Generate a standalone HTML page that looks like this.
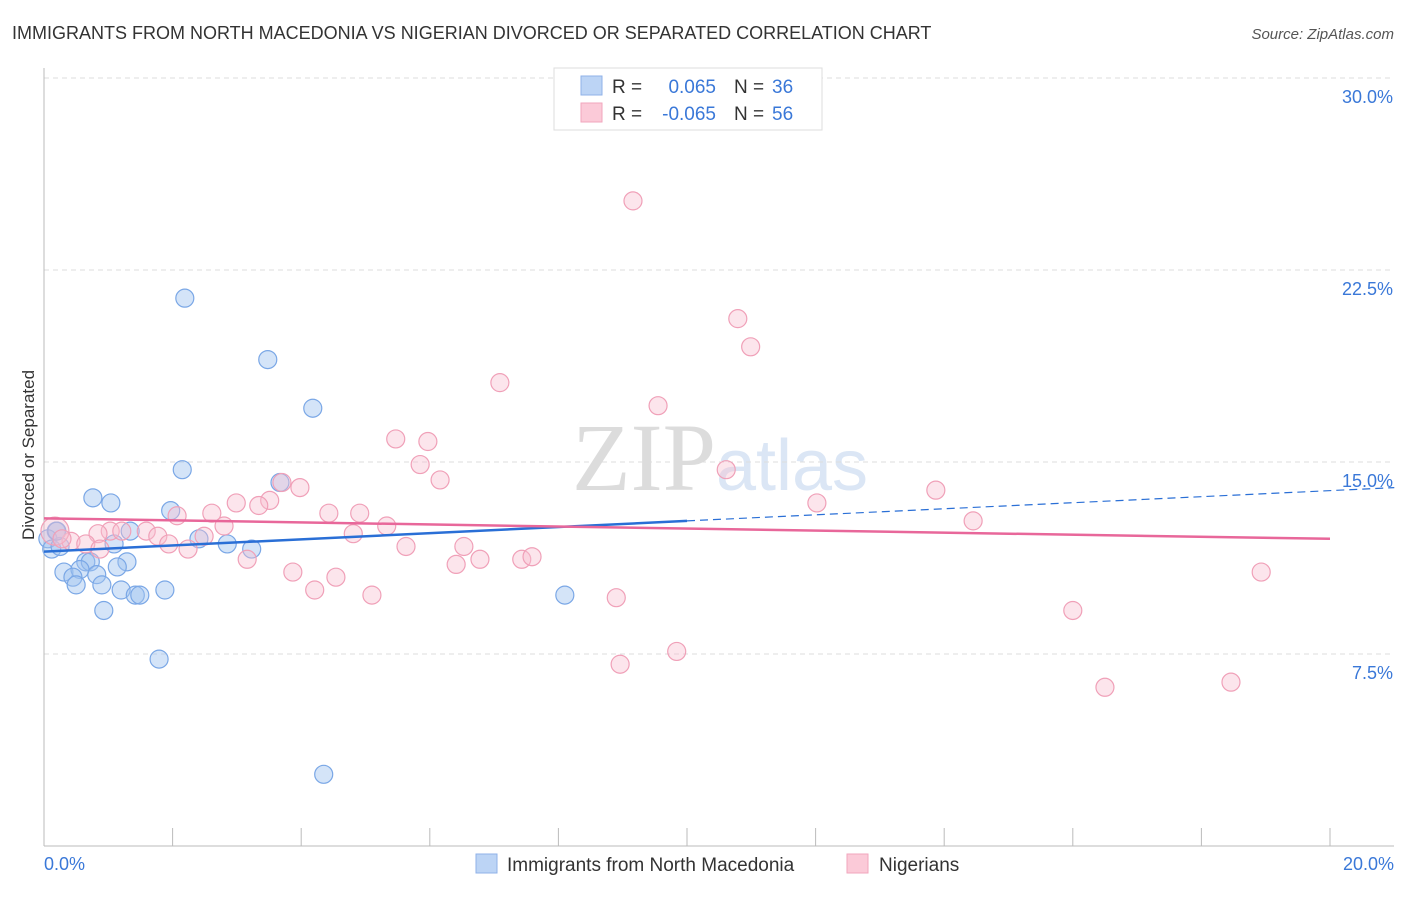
<!DOCTYPE html>
<html><head><meta charset="utf-8"><style>
body{margin:0;background:#fff;font-family:"Liberation Sans",sans-serif}
svg text{font-family:"Liberation Sans",sans-serif}
</style></head><body>
<svg id="c" width="1406" height="892" viewBox="0 0 1406 892">
<text x="12" y="39" font-size="18" fill="#333">IMMIGRANTS FROM NORTH MACEDONIA VS NIGERIAN DIVORCED OR SEPARATED CORRELATION CHART</text>
<text x="1394" y="39" font-size="15" fill="#555" text-anchor="end" font-style="italic">Source: ZipAtlas.com</text>
<text x="720" y="490" font-size="96" fill="#e6e6e6" text-anchor="middle" font-family="Liberation Serif"><tspan font-family="Liberation Serif" fill="#dcdcdc">ZIP</tspan><tspan font-size="72" fill="#dbe6f5">atlas</tspan></text>
<g id="grid"></g>
<g id="pts"></g>
<g id="lines"></g>
<text transform="translate(34,455) rotate(-90)" font-size="17" fill="#333" text-anchor="middle">Divorced or Separated</text>
<text x="44" y="870" font-size="18" fill="#3a78d8">0.0%</text>
<text x="1394" y="870" font-size="18" fill="#3a78d8" text-anchor="end">20.0%</text>
<g>
<rect x="554" y="68" width="268" height="62" fill="#fff" stroke="#ddd"/>
<rect x="581" y="76" width="21" height="19" fill="#bcd4f5" stroke="#8fb2e8"/>
<rect x="581" y="103" width="21" height="19" fill="#fbcad8" stroke="#f2a6bd"/>
<text x="612" y="93" font-size="19" fill="#333">R =</text>
<text x="716" y="93" font-size="19" fill="#3a78d8" text-anchor="end">0.065</text>
<text x="734" y="93" font-size="19" fill="#333">N =</text>
<text x="772" y="93" font-size="19" fill="#3a78d8">36</text>
<text x="612" y="120" font-size="19" fill="#333">R =</text>
<text x="716" y="120" font-size="19" fill="#3a78d8" text-anchor="end">-0.065</text>
<text x="734" y="120" font-size="19" fill="#333">N =</text>
<text x="772" y="120" font-size="19" fill="#3a78d8">56</text>
</g>
<g>
<rect x="476" y="854" width="21" height="19" fill="#bcd4f5" stroke="#8fb2e8"/>
<text x="507" y="871" font-size="19" fill="#333">Immigrants from North Macedonia</text>
<rect x="847" y="854" width="21" height="19" fill="#fbcad8" stroke="#f2a6bd"/>
<text x="879" y="871" font-size="19" fill="#333">Nigerians</text>
</g>
</svg>
<script>
const yTicks=[7.5,15.0,22.5,30.0];
const xTicks=[0,2,4,6,8,10,12,14,16,18,20];
const blueX=[2.19,3.48,4.18,2.15,3.67,0.76,1.04,1.97,1.34,0.19,1.09,2.41,2.85,3.23,0.06,0.12,0.25,0.65,0.72,1.29,0.31,0.56,1.14,0.45,0.82,0.50,0.90,1.20,1.42,1.49,1.88,0.93,1.79,4.35,8.10,0.20];
const blueY=[21.4,19.0,17.1,14.7,14.2,13.6,13.4,13.1,12.3,12.3,11.8,12.0,11.8,11.6,12.0,11.6,11.7,11.1,11.1,11.1,10.7,10.8,10.9,10.5,10.6,10.2,10.2,10.0,9.8,9.8,10.0,9.2,7.3,2.8,9.8,12.3];
const pinkX=[9.16,10.79,10.99,7.09,9.55,5.47,5.97,5.85,6.16,10.61,3.70,3.98,13.87,12.02,3.51,2.99,3.34,2.61,2.07,4.43,4.91,14.45,2.80,5.33,1.59,1.03,0.84,1.21,1.77,2.49,4.81,0.42,0.65,1.94,2.24,5.63,6.53,7.43,7.59,3.16,6.78,6.41,3.87,4.54,18.93,4.21,5.10,8.90,16.00,9.84,8.96,16.50,18.46,0.17,0.28,0.87];
const pinkY=[25.2,20.6,19.5,18.1,17.2,15.9,15.8,14.9,14.3,14.7,14.2,14.0,13.9,13.4,13.5,13.4,13.3,13.0,12.9,13.0,13.0,12.7,12.5,12.5,12.3,12.3,12.2,12.3,12.1,12.1,12.2,11.9,11.8,11.8,11.6,11.7,11.7,11.2,11.3,11.2,11.2,11.0,10.7,10.5,10.7,10.0,9.8,9.7,9.2,7.6,7.1,6.2,6.4,12.3,12.0,11.6];
const blueTrend=[11.5,12.7,14.0];
const pinkTrend=[12.8,12.0];
const X=v=>44+v*64.3, Y=v=>846-v*25.6;
const NS="http://www.w3.org/2000/svg";
function mk(t,a,p){const e=document.createElementNS(NS,t);for(const k in a)e.setAttribute(k,a[k]);p.appendChild(e);return e;}
const g=document.getElementById('grid');
yTicks.forEach(v=>{
 const l=mk('line',{x1:44,x2:1394,y1:Y(v),y2:Y(v),stroke:'#ddd','stroke-dasharray':'5,4'},g);
 
 
 const t=mk('text',{x:1393,y:Y(v)+25,'font-size':18,fill:'#3a78d8','text-anchor':'end'},g);
 t.textContent=v.toFixed(1)+'%';
 
 
});
const ax=mk('line',{x1:44,x2:1394,y1:846,y2:846,stroke:'#bbb'},g);


const ay=mk('line',{x1:44,x2:44,y1:68,y2:846,stroke:'#bbb'},g);


xTicks.forEach(v=>{
 const l=mk('line',{x1:X(v),x2:X(v),y1:828,y2:846,stroke:'#bbb'},g);
 
 
});
const p=document.getElementById('pts');
blueX.forEach((x,i)=>{
 const c=mk('circle',{cx:X(x),cy:Y(blueY[i]),r:9,fill:'rgba(160,195,240,0.45)',stroke:'#7aa7e6','stroke-width':1.2},p);
 
 
});
pinkX.forEach((x,i)=>{
 const c=mk('circle',{cx:X(x),cy:Y(pinkY[i]),r:i==53?14:9,fill:'rgba(248,190,208,0.4)',stroke:'#f0a0b8','stroke-width':1.2},p);
 
 
});
const L=document.getElementById('lines');
const b1=mk('line',{x1:X(0),y1:Y(blueTrend[0]),x2:X(10),y2:Y(blueTrend[1]),stroke:'#2a6fd6','stroke-width':2.5},L);


const b2=mk('line',{x1:X(10),y1:Y(blueTrend[1]),x2:X(21),y2:Y(blueTrend[2]),stroke:'#2a6fd6','stroke-width':1.2,'stroke-dasharray':'8,5'},L);


const p1=mk('line',{x1:X(0),y1:Y(pinkTrend[0]),x2:X(20),y2:Y(pinkTrend[1]),stroke:'#e8679a','stroke-width':2.5},L);


</script>
</body></html>
